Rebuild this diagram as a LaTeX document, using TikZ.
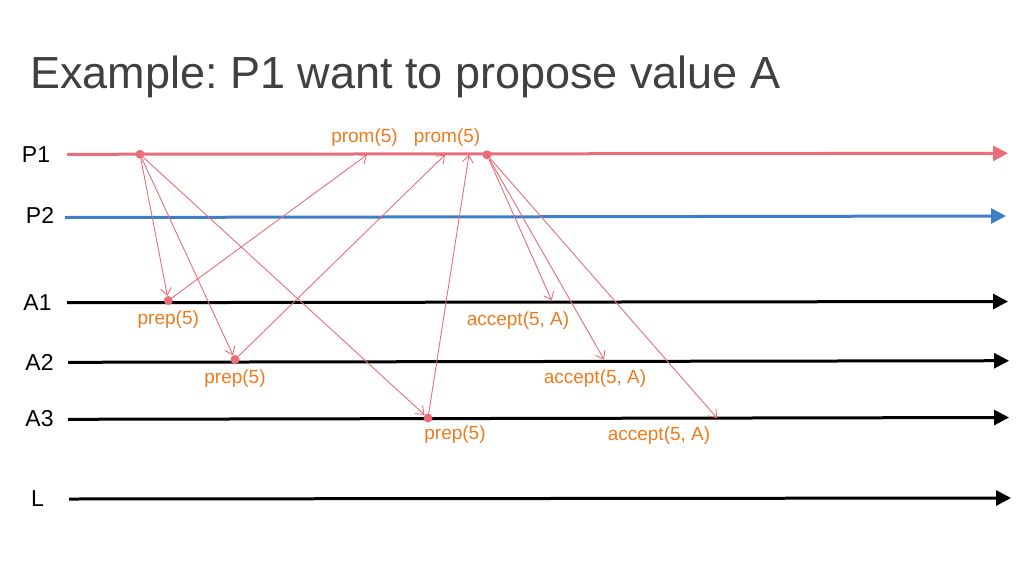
\documentclass[tikz,border=0pt]{standalone}
\usepackage{fontspec}
\setmainfont{Liberation Sans}
\usetikzlibrary{arrows.meta,positioning}
\frenchspacing

\definecolor{pred}{HTML}{E96E78}
\definecolor{pblue}{HTML}{3D7EC6}
\definecolor{lbl}{HTML}{EE7A1E}
\definecolor{ttl}{HTML}{404040}

\tikzset{
  proc/.style={line width=3pt,-{Triangle[length=15pt,width=15pt]}},
  msg/.style={pred,line width=0.9pt,-{Straight Barb[length=7pt,width=11pt]}},
  ev/.style={circle,fill=pred,inner sep=0pt,minimum size=9pt},
  lname/.style={font=\fontsize{23}{25}\selectfont,inner sep=0pt},
  mlabel/.style={text=lbl,font=\fontsize{19}{21}\selectfont,inner sep=0pt},
}

\begin{document}
\begin{tikzpicture}[x=1pt,y=-1pt,on grid]
\useasboundingbox (0,0) rectangle (1024,576);

\node[anchor=base west,inner sep=0pt,text=ttl,font=\fontsize{45}{49}\selectfont] (title) at (30,88) {Example: P1 want to propose value A};

% process names
\node[lname] (nP1) at (36,155) {P1};
\node[lname] (nP2) at (40,215) {P2};
\node[lname] (nA1) at (37.5,303) {A1};
\node[lname] (nA2) at (39.5,362) {A2};
\node[lname] (nA3) at (39.5,419) {A3};
\node[lname] (nL)  at (37.5,498.5) {L};

% time lines
\coordinate (p1s) at (67,154.3);   \coordinate (p1e) at (1008,153.3);
\coordinate (p2s) at (65,217.5);   \coordinate (p2e) at (1006,216);
\coordinate (a1s) at (67,302.7);   \coordinate (a1e) at (1008,301.5);
\coordinate (a2s) at (68,362.3);   \coordinate (a2e) at (1009,360.7);
\coordinate (a3s) at (68,419.3);   \coordinate (a3e) at (1009,417.5);
\coordinate (ls)  at (69,499);     \coordinate (le)  at (1011,498);

\draw[proc,pred]  (p1s) -- (p1e);
\draw[proc,pblue] (p2s) -- (p2e);
\draw[proc] (a1s) -- (a1e);
\draw[proc] (a2s) -- (a2e);
\draw[proc] (a3s) -- (a3e);
\draw[proc] (ls) -- (le);

% events
\node[ev] (s1) at (140,154.3) {};
\node[ev] (s2) at (487,154.8) {};
\node[ev] (r1) at (168.3,300.5) {};
\node[ev] (r2) at (235,359.5) {};
\node[ev] (r3) at (428,418) {};

\coordinate (q1) at (367,154.8);
\coordinate (q2) at (445,154.8);
\coordinate (q3) at (469,154.8);
\coordinate (c1) at (551.7,300.5);
\coordinate (c2) at (604,359.5);
\coordinate (c3) at (717,418);

\path[msg]
  (s1) edge (r1)
  (s1) edge (r2)
  (s1) edge (r3)
  (r1) edge (q1)
  (r2) edge (q2)
  (r3) edge (q3)
  (s2) edge (c1)
  (s2) edge (c2)
  (s2) edge (c3);

% labels
\node[mlabel] (prom1) at (364.5,138) {prom(5)};
\node[mlabel] (prom2) at (447,138) {prom(5)};
\node[mlabel] (prep1) [below=19.5pt of r1] {prep(5)};
\node[mlabel] (prep2) [below=19.5pt of r2] {prep(5)};
\node[mlabel] (prep3) at (455,435) {prep(5)};
\node[mlabel] (acc1) at (518,321) {accept(5, A)};
\node[mlabel] (acc2) at (595,379) {accept(5, A)};
\node[mlabel] (acc3) at (659,436) {accept(5, A)};

\end{tikzpicture}
\end{document}
